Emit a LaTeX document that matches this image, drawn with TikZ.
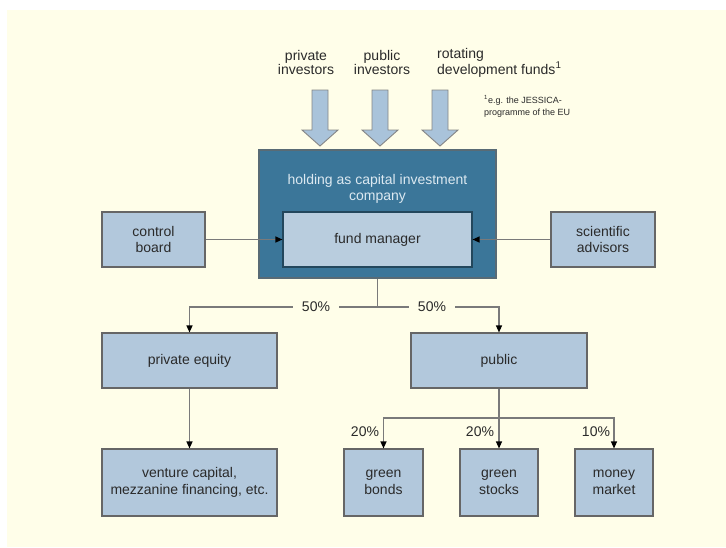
\documentclass[tikz,border=0pt]{standalone}
\usepackage{fontspec}
\setmainfont{Liberation Sans}
\usetikzlibrary{arrows.meta}
\definecolor{cream}{HTML}{FFFEE9}
\definecolor{lightbox}{HTML}{B2C8DC}
\definecolor{innerbox}{HTML}{B9CDDE}
\definecolor{darkbox}{HTML}{3B7699}
\definecolor{boxline}{HTML}{666666}
\definecolor{conline}{HTML}{7A7A7A}
\definecolor{txt}{HTML}{2A2A2A}
\definecolor{darktxt}{HTML}{DCE9F1}
\definecolor{blockfill}{HTML}{A9C3DA}
\tikzset{
  lbox/.style={draw=boxline, line width=1.1pt, fill=lightbox, text=txt, align=center,
    inner sep=0pt, font=\fontsize{14}{16.5}\selectfont},
  conn/.style={draw=conline, line width=1.2pt},
  arr/.style={conn, -{Triangle[length=7pt,width=6pt,color=black]}},
  pct/.style={text=txt, font=\fontsize{14}{16.5}\selectfont, inner sep=0pt},
  toplabel/.style={text=txt, align=center, font=\fontsize{14}{14}\selectfont, inner sep=0pt},
  blockarrow/.style={draw=boxline!80, line width=0.9pt, fill=blockfill}
}
\begin{document}
\begin{tikzpicture}[x=1pt,y=-1pt]
\useasboundingbox (0,0) rectangle (726,547);
\fill[white] (0,0) rectangle (726,547);
\fill[cream] (7,10) rectangle (726,547);

% top labels (base anchor = baseline of last line)
\node[toplabel, anchor=base] (tl1) at (306,74) {private\\investors};
\node[toplabel, anchor=base] (tl2) at (382,74) {public\\investors};
\node[toplabel, anchor=base west, align=left] (tl3) at (437,74) {rotating\\development funds\textsuperscript{1}};
\node[text=txt, anchor=base west, align=left, inner sep=0pt, font=\fontsize{9}{12}\selectfont] (fn) at (484,115) {\textsuperscript{1}e.g. the JESSICA-\\programme of the EU};

% block arrows
\foreach \c in {320,380,440}{
  \draw[blockarrow] (\c-8,90) -- (\c+8,90) -- (\c+8,130) -- (\c+18,130) -- (\c,146) -- (\c-18,130) -- (\c-8,130) -- cycle;
}

% holding box
\node[draw=boxline!70!darkbox, line width=1.1pt, fill=darkbox, minimum width=237pt, minimum height=128pt, inner sep=0pt] (hold) at (377.5,214) {};
\node[text=darktxt, align=center, inner sep=0pt, font=\fontsize{14}{16.5}\selectfont] (htext) at (377.5,189) {holding as capital investment\\company};
\node[lbox, fill=innerbox, draw=darkbox!60!black, minimum width=189pt, minimum height=55pt] (fm) at (377.5,239.5) {fund manager};

\node[lbox, minimum width=103pt, minimum height=55pt] (cb) at (153.5,239.5) {control\\board};
\node[lbox, minimum width=104pt, minimum height=55pt] (sa) at (603,239.5) {scientific\\advisors};

\node[lbox, minimum width=175pt, minimum height=55pt] (pe) at (189.5,360.5) {private equity};
\node[lbox, minimum width=176pt, minimum height=55pt] (pub) at (499,360.5) {public};

\node[lbox, minimum width=175pt, minimum height=67pt] (vc) at (189.5,482.5) {venture capital,\\mezzanine financing, etc.};
\node[lbox, minimum width=79pt, minimum height=67pt] (gb) at (383.5,482.5) {green\\bonds};
\node[lbox, minimum width=78pt, minimum height=67pt] (gs) at (499,482.5) {green\\stocks};
\node[lbox, minimum width=78pt, minimum height=67pt] (mm) at (614,482.5) {money\\market};

% connectors
\draw[arr] (cb.east) -- (fm.west);
\draw[arr] (sa.west) -- (fm.east);

\coordinate (j1) at (377.5,307);
\draw[conn] (hold.south) -- (j1);
\draw[arr] (j1) -| (pe.north);
\draw[arr] (j1) -| (pub.north);
\node[pct, fill=cream, inner xsep=9pt, inner ysep=2pt] (p50a) at (316,307) {50\%};
\node[pct, fill=cream, inner xsep=9pt, inner ysep=2pt] (p50b) at (432,307) {50\%};

\draw[arr] (pe.south) -- (vc.north);

\coordinate (j2) at (499,418);
\draw[conn] (pub.south) -- (j2);
\draw[arr] (j2) -| (gb.north);
\draw[arr] (j2) -| (mm.north);
\draw[arr] (pub.south) -- (gs.north);

\node[pct] (p20a) at (365,432) {20\%};
\node[pct] (p20b) at (480,432) {20\%};
\node[pct] (p10) at (596,432) {10\%};
\end{tikzpicture}
\end{document}
